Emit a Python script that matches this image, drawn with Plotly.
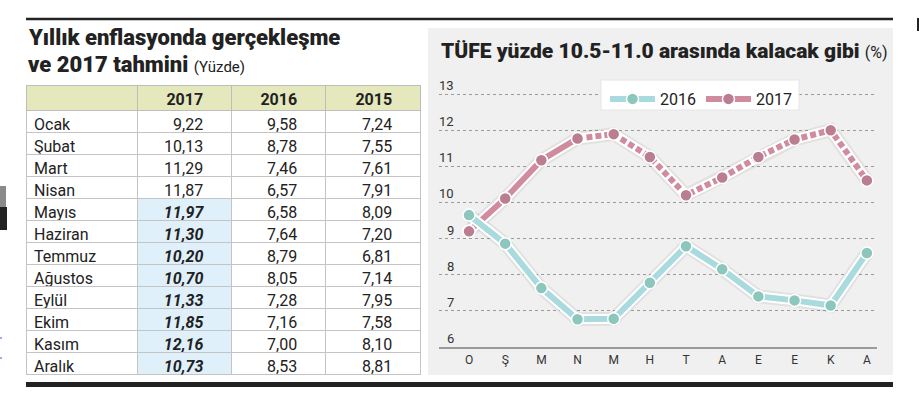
import plotly.graph_objects as go

W, H = 919, 400

# ---------------- data ----------------
months = ["Ocak", "Şubat", "Mart", "Nisan", "Mayıs", "Haziran", "Temmuz",
          "Ağustos", "Eylül", "Ekim", "Kasım", "Aralık"]
table_years = ["2017", "2016", "2015"]
t2017 = ["9,22", "10,13", "11,29", "11,87", "11,97", "11,30", "10,20",
         "10,70", "11,33", "11,85", "12,16", "10,73"]
t2016 = ["9,58", "8,78", "7,46", "6,57", "6,58", "7,64", "8,79",
         "8,05", "7,28", "7,16", "7,00", "8,53"]
t2015 = ["7,24", "7,55", "7,61", "7,91", "8,09", "7,20", "6,81",
         "7,14", "7,95", "7,58", "8,10", "8,81"]
forecast_start = 4  # Mayıs onward = forecast

month_ticks = ["O", "Ş", "M", "N", "M", "H", "T", "A", "E", "E", "K", "A"]
chart_2016 = [9.65, 8.86, 7.63, 6.77, 6.78, 7.78, 8.79, 8.15, 7.40, 7.29, 7.15, 8.60]
chart_2017 = [9.20, 10.11, 11.17, 11.77, 11.89, 11.26, 10.20, 10.69, 11.26, 11.74, 12.00, 10.61]
y_ticks = [6, 7, 8, 9, 10, 11, 12, 13]

# ---------------- styles ----------------
FONT = "Roboto, 'Noto Sans', sans-serif"
TXT = "#222222"
TEAL_LINE, TEAL_MK = "#a8dade", "#8dc6bd"
PINK_LINE, PINK_MK = "#d08c9e", "#bb7e91"


def px(x):
    return x / W


def py(y):
    return 1 - y / H


xs = list(range(len(month_ticks)))
split = forecast_start - 1
n = len(months)

fig = go.Figure()

# ---------------- table ----------------
pad = "\u00a0" * 5
is_fc = [i >= forecast_start for i in range(n)]
fill_2017 = ["#dff0fa" if f else "#ffffff" for f in is_fc]
fig.add_trace(go.Table(
    domain=dict(x=[px(26), px(420)], y=[py(375), py(85)]),
    columnwidth=[111, 94, 94, 95],
    header=dict(
        values=[""] + [y + pad for y in table_years],
        height=25,
        fill_color="#e5e8bd",
        line=dict(color="#bdbdbd", width=1),
        align=["left", "right", "right", "right"],
        font=dict(family=FONT, size=16, color=TXT, weight=700),
    ),
    cells=dict(
        values=[months, [v + pad for v in t2017], [v + pad for v in t2016],
                [v + pad for v in t2015]],
        height=22,
        fill_color=[["#ffffff"] * n, fill_2017, ["#ffffff"] * n, ["#ffffff"] * n],
        line=dict(color="#c4c4c4", width=1),
        align=["left", "right", "right", "right"],
        font=dict(family=FONT, size=16, color=TXT),
    ),
))
# per-cell bold italic for forecast cells (2-D font arrays: column x row)
cell_font = fig._data[0]["cells"]["font"]
cell_font["weight"] = [[400] * n, [700 if f else 400 for f in is_fc], [400] * n, [400] * n]
cell_font["style"] = [["normal"] * n, ["italic" if f else "normal" for f in is_fc],
                      ["normal"] * n, ["normal"] * n]

# ---------------- line chart ----------------
for vals in (chart_2017, chart_2016):
    fig.add_trace(go.Scatter(x=xs, y=vals, mode="lines", showlegend=False,
                             hoverinfo="skip", line=dict(color="rgba(0,0,0,0.06)", width=14)))

# 2017: white outline, dashed forecast, solid actual (legend), markers
fig.add_trace(go.Scatter(x=xs, y=chart_2017, mode="lines", showlegend=False,
                         hoverinfo="skip", line=dict(color="white", width=10)))
fig.add_trace(go.Scatter(x=xs[split:], y=chart_2017[split:], mode="lines", showlegend=False,
                         line=dict(color=PINK_LINE, width=6, dash="6px,3px")))
fig.add_trace(go.Scatter(x=xs[:split + 1], y=chart_2017[:split + 1], mode="lines+markers",
                         name="2017", legendrank=2,
                         line=dict(color=PINK_LINE, width=6),
                         marker=dict(color=PINK_MK, size=12, line=dict(color="white", width=1.5))))
fig.add_trace(go.Scatter(x=xs, y=chart_2017, mode="markers", showlegend=False,
                         marker=dict(color=PINK_MK, size=12, line=dict(color="white", width=1.5))))

# 2016
fig.add_trace(go.Scatter(x=xs, y=chart_2016, mode="lines", showlegend=False,
                         hoverinfo="skip", line=dict(color="white", width=10)))
fig.add_trace(go.Scatter(x=xs, y=chart_2016, mode="lines+markers", name="2016", legendrank=1,
                         line=dict(color=TEAL_LINE, width=6),
                         marker=dict(color=TEAL_MK, size=12, line=dict(color="white", width=1.5))))

# y tick labels (right aligned, sitting on gridlines)
annotations = []
for v in y_ticks:
    annotations.append(dict(xref="paper", yref="y", x=px(456), y=v, text=str(v),
                            xanchor="right", yanchor="bottom", showarrow=False, yshift=-1,
                            font=dict(family=FONT, size=13, color="#333333")))

# titles
annotations += [
    dict(xref="paper", yref="paper", x=px(26), y=py(38), xanchor="left", yanchor="middle",
         showarrow=False, text="Yıllık enflasyonda gerçekleşme",
         font=dict(family=FONT, size=22, color=TXT, weight=900)),
    dict(xref="paper", yref="paper", x=px(26), y=py(65), xanchor="left", yanchor="middle",
         showarrow=False,
         text="ve 2017 tahmini <span style='font-size:15px;font-weight:400'>(Yüzde)</span>",
         font=dict(family=FONT, size=22, color=TXT, weight=900)),
    dict(xref="paper", yref="paper", x=px(439), y=py(51), xanchor="left", yanchor="middle",
         showarrow=False,
         text="TÜFE yüzde 10.5-11.0 arasında kalacak gibi <span style='font-size:16px;font-weight:400'>(%)</span>",
         font=dict(family=FONT, size=21, color=TXT, weight=900)),
]

shapes = [
    # grey chart panel
    dict(type="rect", xref="paper", yref="paper", x0=px(428), x1=px(893), y0=py(375), y1=py(28),
         fillcolor="#f0f0f0", line=dict(width=0), layer="below"),
    # legend box
    dict(type="rect", xref="paper", yref="paper", x0=px(601), x1=px(799), y0=py(110), y1=py(80),
         fillcolor="white", line=dict(color="#e6e6e6", width=1), layer="above"),
    # top rule
    dict(type="line", xref="paper", yref="paper", x0=px(26), x1=px(893), y0=py(19), y1=py(19),
         line=dict(color="#222222", width=2.5)),
    # bottom bar
    dict(type="rect", xref="paper", yref="paper", x0=px(26), x1=px(893), y0=py(387), y1=py(382),
         fillcolor="#222222", line=dict(width=0)),
    # page edge fragments
    dict(type="rect", xref="paper", yref="paper", x0=0, x1=px(6), y0=py(207), y1=py(186),
         fillcolor="#8a8a8a", line=dict(width=0)),
    dict(type="rect", xref="paper", yref="paper", x0=0, x1=px(7), y0=py(230), y1=py(207),
         fillcolor="#222222", line=dict(width=0)),
    dict(type="line", xref="paper", yref="paper", x0=0, x1=px(2), y0=py(338), y1=py(338),
         line=dict(color="#3a5bd0", width=1)),
    dict(type="line", xref="paper", yref="paper", x0=0, x1=px(2), y0=py(358), y1=py(358),
         line=dict(color="#3a5bd0", width=1)),
    dict(type="line", xref="paper", yref="paper", x0=px(918), x1=px(918), y0=py(31), y1=py(18),
         line=dict(color="#222222", width=2)),
]

fig.update_layout(
    width=W, height=H,
    margin=dict(l=0, r=0, t=0, b=0),
    paper_bgcolor="white",
    plot_bgcolor="rgba(0,0,0,0)",
    font=dict(family=FONT, color=TXT),
    showlegend=True,
    legend=dict(orientation="h", x=px(605), y=py(82), xanchor="left", yanchor="top",
                bgcolor="rgba(0,0,0,0)", borderwidth=0, itemwidth=45,
                font=dict(family=FONT, size=16, color=TXT)),
    xaxis=dict(domain=[px(439), px(877)], range=[-0.83, 11.28],
               tickvals=xs, ticktext=month_ticks, showgrid=False, zeroline=False,
               showline=True, linecolor="#9a9a9a", linewidth=1.5,
               ticks="", ticklabelstandoff=1,
               tickfont=dict(family=FONT, size=12, color="#333333")),
    yaxis=dict(domain=[py(347), py(83.2)], range=[6, 13.3],
               tickvals=y_ticks, showticklabels=False, ticks="",
               showgrid=True, gridcolor="#9a9a9a", gridwidth=1, griddash="dot",
               zeroline=False, showline=False),
    annotations=annotations,
    shapes=shapes,
)

fig.write_html("out.html", config={"displayModeBar": False},
               post_script="document.body.style.margin='0';")
